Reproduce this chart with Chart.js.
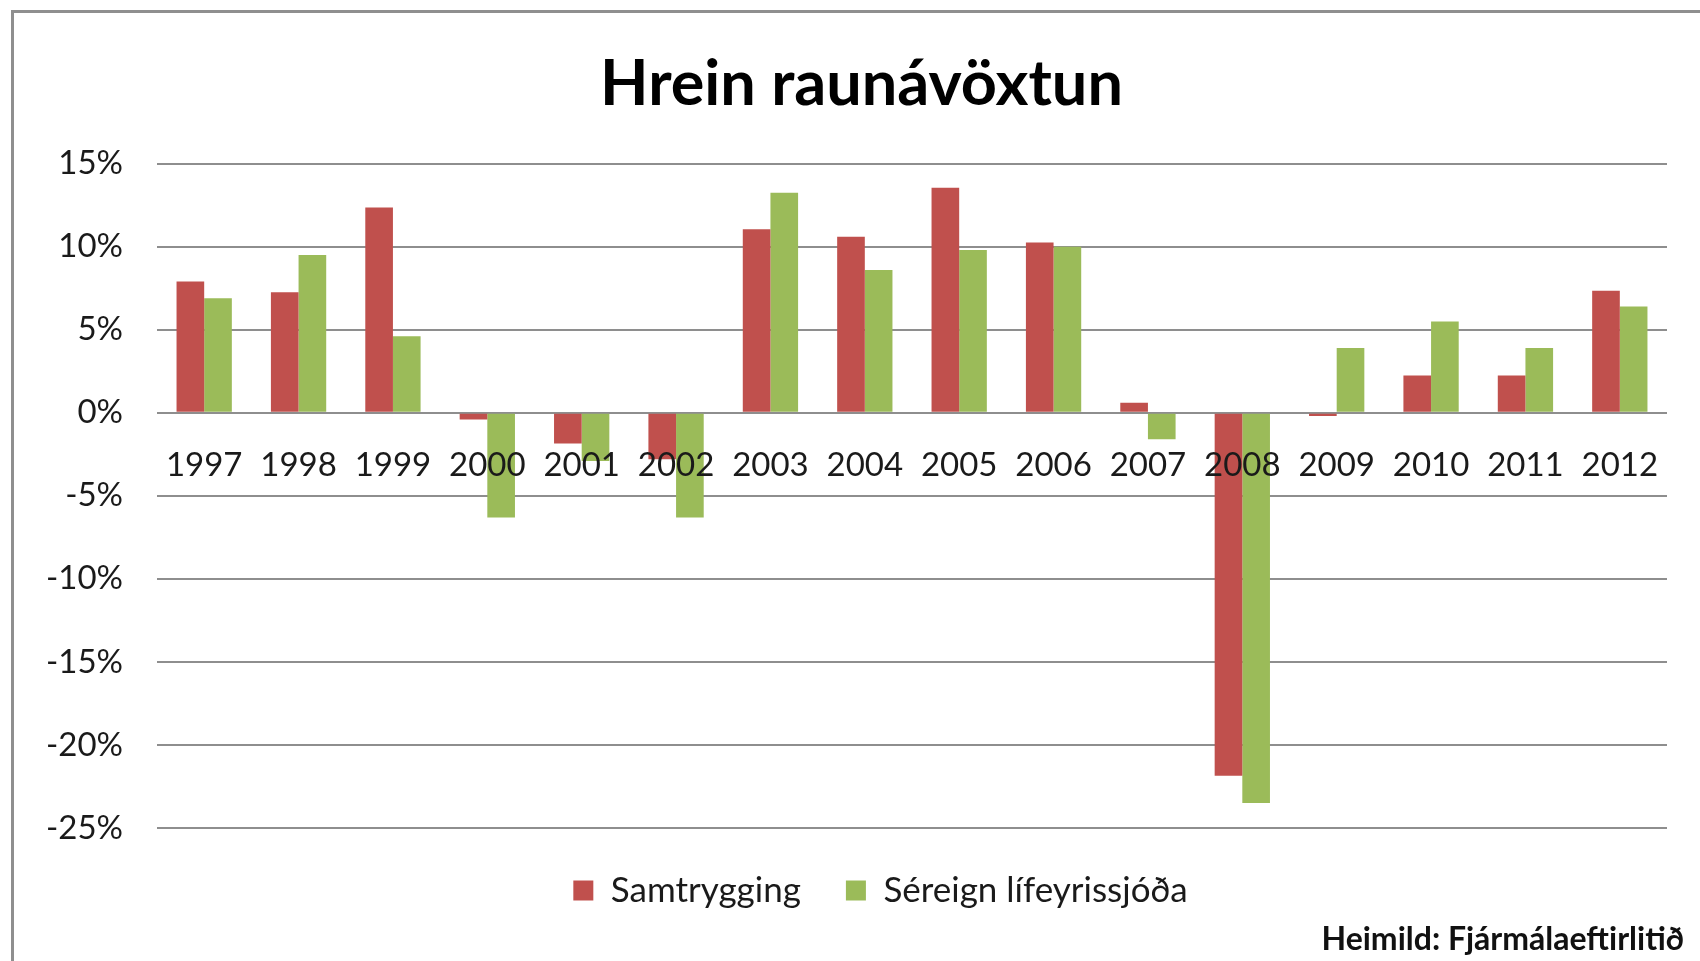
<!DOCTYPE html>
<html>
<head>
<meta charset="utf-8">
<script src="https://cdn.jsdelivr.net/npm/chart.js@4/dist/chart.umd.min.js"></script>
<style>
    html, body {
        margin: 0;
        padding: 0;
        background: #fff;
        overflow: hidden;
    }

    .frame {
        position: absolute;
        left: 11px;
        top: 10px;
        width: 1760px;
        height: 1000px;
        border: 3px solid #8f8f8f;
    }

    .chart-wrap {
        position: absolute;
        left: 0;
        top: 0;
        width: 1700px;
        height: 961px;
    }

    .source {
        position: absolute;
        right: 16px;
        top: 920px;
        font: bold 32px Lato, sans-serif;
        line-height: 36px;
        color: #111;
    }
</style>
</head>
<body>
<div class="frame"></div>
<div class="chart-wrap">
    <canvas class="return-chart" width="1700" height="961"></canvas>
</div>
<div class="source">Heimild: Fjármálaeftirlitið</div>

<script>
// Data

const years = ["1997", "1998", "1999", "2000", "2001", "2002", "2003", "2004",
    "2005", "2006", "2007", "2008", "2009", "2010", "2011", "2012"];

const samtrygging = [7.9, 7.25, 12.35, -0.4, -1.85, -2.8, 11.05, 10.6,
    13.55, 10.25, 0.6, -21.85, -0.2, 2.25, 2.25, 7.35];

const sereign = [6.9, 9.5, 4.6, -6.3, -2.9, -6.3, 13.25, 8.6,
    9.8, 10.0, -1.6, -23.5, 3.9, 5.5, 3.9, 6.4];

const yTicks = [15, 10, 5, 0, -5, -10, -15, -20, -25];

// Chart Variables

const chartCtx = document.querySelector(".return-chart");

Chart.defaults.font.family = "Lato, 'Open Sans', sans-serif";
Chart.defaults.color = "#1a1a1a";

const gridColor = "#8e8e8e";

// the original centres title and legend on its frame, not on the canvas
const boxShift = {
    id: "boxShift",
    afterLayout(chart) {
        chart.titleBlock.left += 28;
        chart.titleBlock.right += 28;
        chart.legend.left += 47;
        chart.legend.right += 47;
    }
};

let returnChart = new Chart(chartCtx, {
    type: "bar",
    data: {
        labels: years,
        datasets: [{
            label: "Samtrygging",
            data: samtrygging,
            backgroundColor: "#C0504D",
            borderWidth: 0,
            categoryPercentage: 0.586,
            barPercentage: 1,
        },
        {
            label: "Séreign lífeyrissjóða",
            data: sereign,
            backgroundColor: "#9BBB59",
            borderWidth: 0,
            categoryPercentage: 0.586,
            barPercentage: 1,
        }],
    },
    options: {
        responsive: false,
        animation: false,
        devicePixelRatio: 1,
        layout: {
            padding: { left: 0, right: 33, top: 0, bottom: 43 },
        },
        scales: {
            x: {
                position: { y: 0 },
                grid: { display: false, drawTicks: false },
                border: { display: false },
                ticks: {
                    z: 1,
                    padding: 33,
                    maxRotation: 0,
                    autoSkip: false,
                    font: { size: 33 },
                },
            },
            y: {
                min: -25,
                max: 15,
                afterFit: (scale) => { scale.width = 157; },
                afterBuildTicks: (scale) => {
                    scale.ticks = yTicks.map(v => ({ value: v }));
                },
                grid: {
                    color: gridColor,
                    lineWidth: 2,
                    drawTicks: false,
                },
                border: { display: false },
                ticks: {
                    padding: 34,
                    font: { size: 33 },
                    callback: (value) => value + "%",
                },
            },
        },
        plugins: {
            title: {
                display: true,
                text: "Hrein raunávöxtun",
                color: "#000",
                font: { size: 63, weight: "bold" },
                padding: { top: 47, bottom: 41 },
            },
            legend: {
                position: "bottom",
                labels: {
                    boxWidth: 20,
                    boxHeight: 20,
                    padding: 45,
                    font: { size: 35 },
                },
            },
            tooltip: { enabled: false },
        },
    },
    plugins: [boxShift],
});
</script>
</body>
</html>
